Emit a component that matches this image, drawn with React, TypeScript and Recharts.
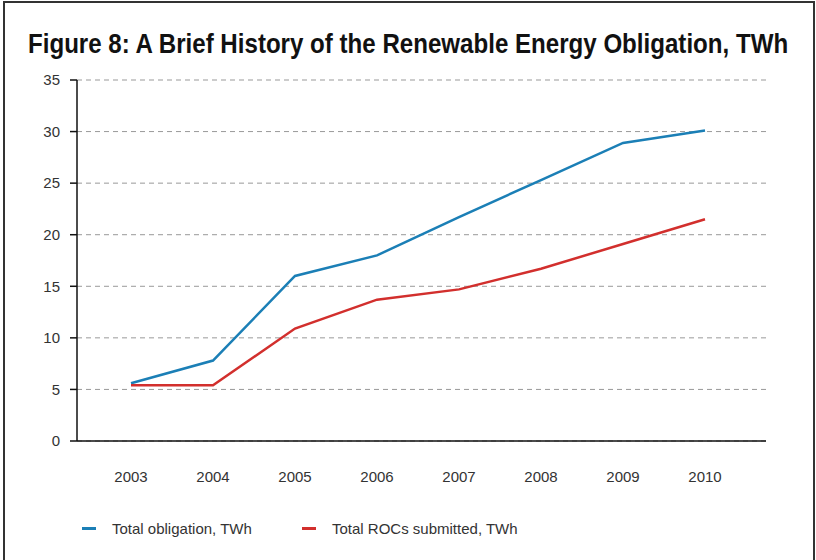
import { useLayoutEffect, useRef, useState } from "react";
import { LineChart, Line, XAxis, YAxis, CartesianGrid } from "recharts";

const years = ["2003", "2004", "2005", "2006", "2007", "2008", "2009", "2010"];
const obligation = [5.6, 7.8, 16.0, 18.0, 21.7, 25.3, 28.9, 30.1];
const rocsSubmitted = [5.4, 5.4, 10.9, 13.7, 14.7, 16.7, 19.1, 21.5];
const yTicks = [0, 5, 10, 15, 20, 25, 30, 35];

const series = [
  { key: "obligation", name: "Total obligation, TWh", color: "#1b7fb6" },
  { key: "rocs", name: "Total ROCs submitted, TWh", color: "#d22f2d" },
];

const data = years.map((year, i) => ({
  year,
  obligation: obligation[i],
  rocs: rocsSubmitted[i],
}));

const FONT = "'Liberation Sans', Arial, sans-serif";
const tick = { fill: "#333", fontSize: 15, fontFamily: FONT };
const TITLE_WIDTH = 760;

// squeeze the bold title into the width of the original's condensed face
function Title({ text }: { text: string }) {
  const ref = useRef<HTMLSpanElement>(null);
  const [scale, setScale] = useState(0.82);
  useLayoutEffect(() => {
    if (ref.current) setScale(TITLE_WIDTH / ref.current.offsetWidth);
  }, [text]);
  return (
    <span
      ref={ref}
      style={{
        position: "absolute",
        left: 28,
        top: 28,
        fontFamily: FONT,
        fontWeight: 700,
        fontSize: 28,
        lineHeight: "32px",
        color: "#111",
        whiteSpace: "nowrap",
        transform: `scaleX(${scale})`,
        transformOrigin: "left top",
      }}
    >
      {text}
    </span>
  );
}

export default function App() {
  return (
    <div style={{ position: "absolute", left: 0, top: 0, width: 816, height: 560, background: "#fff", overflow: "hidden" }}>
      <div style={{ position: "absolute", left: 3, top: 1, width: 808, height: 600, border: "2px solid #333" }} />
      <Title text="Figure 8: A Brief History of the Renewable Energy Obligation, TWh" />
      <div style={{ position: "absolute", left: 0, top: 0 }}>
        <LineChart width={816} height={560} data={data} margin={{ top: 80, right: 50, bottom: 89, left: 37 }}>
          <CartesianGrid vertical={false} stroke="#999" strokeDasharray="5 4" />
          <XAxis
            dataKey="year"
            padding={{ left: 54, right: 61 }}
            tick={tick}
            tickLine={false}
            axisLine={{ stroke: "#111", strokeWidth: 1.5 }}
            tickMargin={24}
            height={30}
          />
          <YAxis
            domain={[0, 35]}
            ticks={yTicks}
            tick={tick}
            width={40}
            tickSize={7}
            tickMargin={10}
            tickLine={{ stroke: "#111", strokeWidth: 1.5 }}
            axisLine={{ stroke: "#111", strokeWidth: 1.5 }}
          />
          {series.map((s) => (
            <Line
              key={s.key}
              dataKey={s.key}
              name={s.name}
              stroke={s.color}
              strokeWidth={2.5}
              dot={false}
              type="linear"
              isAnimationActive={false}
            />
          ))}
        </LineChart>
      </div>
      <div style={{ position: "absolute", left: 82, top: 520, display: "flex", fontFamily: FONT, fontSize: 15, color: "#333" }}>
        {series.map((s) => (
          <div key={s.key} style={{ display: "flex", alignItems: "center", gap: 16, width: 220 }}>
            <div style={{ width: 14, height: 3, background: s.color }} />
            <span style={{ whiteSpace: "nowrap" }}>{s.name}</span>
          </div>
        ))}
      </div>
    </div>
  );
}
